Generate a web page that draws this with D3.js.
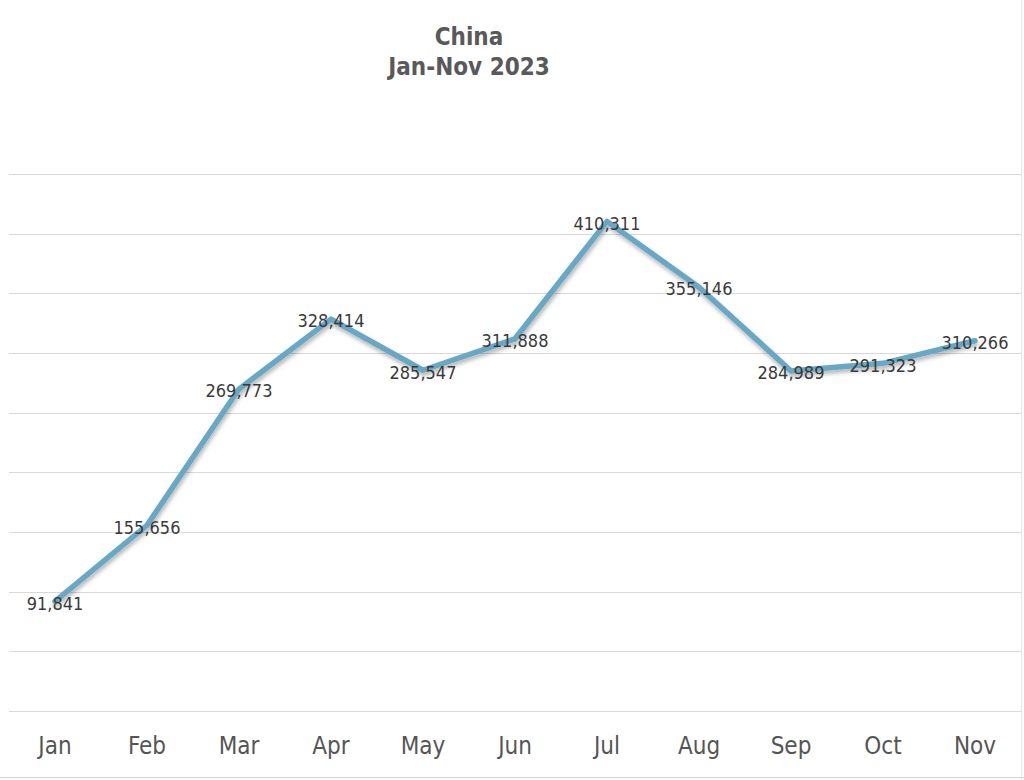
<!DOCTYPE html>
<html><head><meta charset="utf-8">
<script src="https://cdn.jsdelivr.net/npm/d3@7"></script>
<style>
html,body{margin:0;padding:0;background:#fff;}
svg{display:block;font-family:"DejaVu Sans Condensed","DejaVu Sans",sans-serif;}
</style></head>
<body>
<svg id="chart" width="1024" height="780"></svg>
<script>
const months = ["Jan","Feb","Mar","Apr","May","Jun","Jul","Aug","Sep","Oct","Nov"];
const values = [91841,155656,269773,328414,285547,311888,410311,355146,284989,291323,310266];
const labels = ["91,841","155,656","269,773","328,414","285,547","311,888","410,311","355,146","284,989","291,323","310,266"];
const yTicks = [0,50000,100000,150000,200000,250000,300000,350000,400000,450000];
const titleLines = ["China","Jan-Nov 2023"];

(function(){
const svg = d3.select("#chart");
const pL = 9, pR = 1021, pT = 174, pB = 711;

const x = d3.scaleBand().domain(months).range([pL, pR]).padding(0);
const y = d3.scaleLinear().domain([0, 450000]).range([pB, pT]);

const defs = svg.append("defs");
const f = defs.append("filter").attr("id","sh").attr("x","-10%").attr("y","-10%").attr("width","120%").attr("height","130%");
f.append("feDropShadow").attr("dx",1).attr("dy",3).attr("stdDeviation",2).attr("flood-color","#000").attr("flood-opacity",0.3);

svg.append("g").selectAll("line").data(yTicks).join("line")
  .attr("x1", pL).attr("x2", pR)
  .attr("y1", d => Math.round(y(d)) + 0.5).attr("y2", d => Math.round(y(d)) + 0.5)
  .attr("stroke", "#d9d9d9").attr("stroke-width", 1.2);

const xAxis = d3.axisBottom(x).tickSize(0).tickPadding(0);
const gx = svg.append("g").attr("transform", `translate(0,${pB})`).call(xAxis);
gx.select(".domain").remove();
gx.selectAll("text").attr("y", 43).attr("dy", 0)
  .attr("font-size", 24).attr("fill", "#555555")
  .attr("font-family", '"DejaVu Sans Condensed","DejaVu Sans",sans-serif');

const line = d3.line().x((d,i) => x(months[i]) + x.bandwidth()/2).y(d => y(d));
svg.append("path").datum(values).attr("d", line)
  .attr("fill","none").attr("stroke","#68a8c4").attr("stroke-width",5.5)
  .attr("stroke-linejoin","round").attr("stroke-linecap","round")
  .attr("filter","url(#sh)");

svg.append("g").selectAll("text").data(values).join("text")
  .attr("x", (d,i) => x(months[i]) + x.bandwidth()/2)
  .attr("y", d => y(d) + 2)
  .attr("dy", "0.35em")
  .attr("text-anchor","middle")
  .attr("font-size", 18).attr("fill", "#3a3a3a")
  .text((d,i) => labels[i]);

svg.append("g").selectAll("text").data(titleLines).join("text")
  .attr("x", 469).attr("y", (d,i) => 45 + i*30)
  .attr("text-anchor","middle").attr("font-weight","bold")
  .attr("font-size", 24).attr("fill","#595959")
  .text(d => d);

svg.append("line").attr("x1",0).attr("x2",1024).attr("y1",777.5).attr("y2",777.5).attr("stroke","#d0d0d0");
svg.append("line").attr("x1",1021.5).attr("x2",1021.5).attr("y1",0).attr("y2",780).attr("stroke","#e6e6e6");
})();
</script>
</body></html>
